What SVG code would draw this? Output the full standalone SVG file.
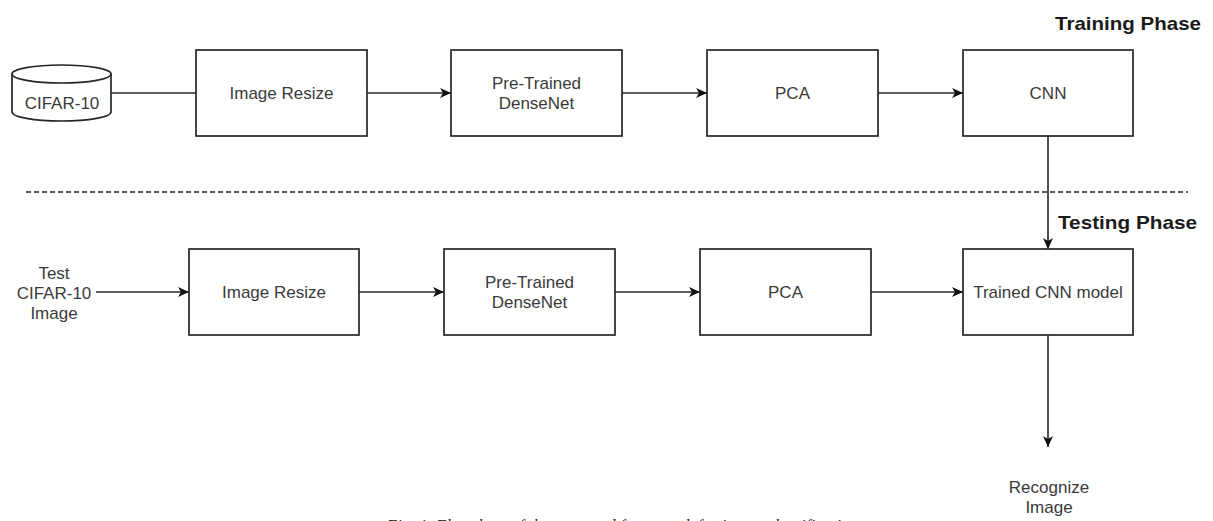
<svg xmlns="http://www.w3.org/2000/svg" width="1213" height="521" viewBox="0 0 1213 521">
<defs>
<style>
.box{fill:#fff;stroke:#262626;stroke-width:1.7}
.lbl{font-family:"Liberation Sans",Arial,sans-serif;font-size:17px;fill:#3a3a3a;text-anchor:middle;dominant-baseline:central}
.phase{font-family:"Liberation Sans",Arial,sans-serif;font-size:19px;font-weight:bold;fill:#1a1a1a}
.edge{fill:none;stroke:#262626;stroke-width:1.6}
.cap{font-family:"Liberation Serif","Times New Roman",serif;font-style:italic;font-size:16px;fill:#222}
</style>
<marker id="arr" markerUnits="userSpaceOnUse" markerWidth="12" markerHeight="10" refX="11" refY="5" orient="auto">
<path d="M0,0 L11,5 L0,10 L3,5 Z" fill="#111"/>
</marker>
</defs>
<rect width="1213" height="521" fill="#fff"/>

<text class="phase" x="1201" y="30" text-anchor="end" textLength="146" lengthAdjust="spacingAndGlyphs">Training Phase</text>
<text class="phase" x="1197" y="229" text-anchor="end" textLength="139" lengthAdjust="spacingAndGlyphs">Testing Phase</text>

<g id="connectors">
<line class="edge" x1="26" y1="192" x2="1188" y2="192" stroke-dasharray="5 3" stroke-width="1.3"/>
<line class="edge" x1="111" y1="93" x2="196" y2="93"/>
<line class="edge" x1="367" y1="93" x2="451" y2="93" marker-end="url(#arr)"/>
<line class="edge" x1="622" y1="93" x2="707" y2="93" marker-end="url(#arr)"/>
<line class="edge" x1="878" y1="93" x2="963" y2="93" marker-end="url(#arr)"/>
<line class="edge" x1="1048" y1="136" x2="1048" y2="249" marker-end="url(#arr)"/>
<line class="edge" x1="96" y1="292" x2="189" y2="292" marker-end="url(#arr)"/>
<line class="edge" x1="359" y1="292" x2="444" y2="292" marker-end="url(#arr)"/>
<line class="edge" x1="615" y1="292" x2="700" y2="292" marker-end="url(#arr)"/>
<line class="edge" x1="871" y1="292" x2="963" y2="292" marker-end="url(#arr)"/>
<line class="edge" x1="1048" y1="335" x2="1048" y2="447" marker-end="url(#arr)"/>
</g>

<g id="cifar10">
<path class="box" d="M12,74 L12,112 A49.5,9 0 0 0 111,112 L111,74 A49.5,9 0 0 0 12,74 Z"/>
<path class="box" fill="none" d="M12,74 A49.5,9 0 0 0 111,74"/>
<text class="lbl" x="62" y="103">CIFAR-10</text>
</g>

<g id="image-resize-train">
<rect class="box" x="196" y="50" width="171" height="86"/>
<text class="lbl" x="281.5" y="93">Image Resize</text>
</g>
<g id="densenet-train">
<rect class="box" x="451" y="50" width="171" height="86"/>
<text class="lbl" x="536.5" y="83">Pre-Trained</text>
<text class="lbl" x="536.5" y="103">DenseNet</text>
</g>
<g id="pca-train">
<rect class="box" x="707" y="50" width="171" height="86"/>
<text class="lbl" x="792.5" y="93">PCA</text>
</g>
<g id="cnn-train">
<rect class="box" x="963" y="50" width="170" height="86"/>
<text class="lbl" x="1048" y="93">CNN</text>
</g>

<g id="test-input">
<text class="lbl" x="54" y="273">Test</text>
<text class="lbl" x="54" y="293">CIFAR-10</text>
<text class="lbl" x="54" y="313">Image</text>
</g>
<g id="image-resize-test">
<rect class="box" x="189" y="249" width="170" height="86"/>
<text class="lbl" x="274" y="292">Image Resize</text>
</g>
<g id="densenet-test">
<rect class="box" x="444" y="249" width="171" height="86"/>
<text class="lbl" x="529.5" y="282">Pre-Trained</text>
<text class="lbl" x="529.5" y="302">DenseNet</text>
</g>
<g id="pca-test">
<rect class="box" x="700" y="249" width="171" height="86"/>
<text class="lbl" x="785.5" y="292">PCA</text>
</g>
<g id="trained-cnn">
<rect class="box" x="963" y="249" width="170" height="86"/>
<text class="lbl" x="1048" y="292">Trained CNN model</text>
</g>
<g id="recognize">
<text class="lbl" x="1049" y="487">Recognize</text>
<text class="lbl" x="1049" y="507">Image</text>
</g>

<text class="cap" x="387" y="531" textLength="475">Fig. 1. Flowchart of the proposed framework for image classification.</text>
</svg>
